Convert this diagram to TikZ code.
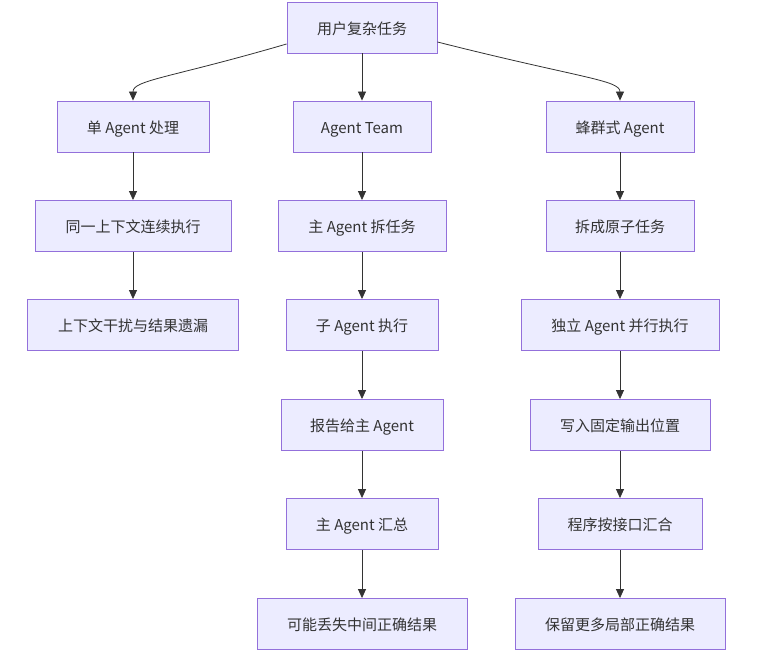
\documentclass[tikz,border=0pt]{standalone}
\usepackage{fontspec}
\setmainfont{Noto Sans CJK SC}
\usepackage{xcolor}
\usetikzlibrary{positioning}
\usetikzlibrary{arrows.meta}

\definecolor{boxfill}{HTML}{ECECFF}
\definecolor{boxline}{HTML}{9370DB}
\definecolor{arrowgray}{HTML}{333333}

\tikzset{
    box/.style={shape=rectangle, draw=boxline, fill=boxfill, line width=0.9pt, minimum height=51pt, inner sep=0pt, text height=13pt, text depth=0pt, font=\fontsize{15}{17}\selectfont, text=arrowgray},
    flow/.style={draw=arrowgray, line width=0.8pt, -{Triangle[length=9pt, width=8pt]}}
}

\begin{document}
\begin{tikzpicture}[x=1pt, y=-1pt]
    \useasboundingbox (0,0) rectangle (760,662);

    \node[box, minimum width=150pt] (T) at (362,27.5) {用户复杂任务};

    % left column
    \node[box, minimum width=152pt] (A1) at (133,126.5) {单 Agent 处理};
    \node[box, minimum width=196pt] (A2) at (133,226) {同一上下文连续执行};
    \node[box, minimum width=211pt] (A3) at (133,325) {上下文干扰与结果遗漏};

    % middle column
    \node[box, minimum width=138pt] (B1) at (362,126.5) {Agent Team};
    \node[box, minimum width=168pt] (B2) at (362,226) {主 Agent 拆任务};
    \node[box, minimum width=152pt] (B3) at (362,325) {子 Agent 执行};
    \node[box, minimum width=162pt] (B4) at (362,425) {报告给主 Agent};
    \node[box, minimum width=152pt] (B5) at (362,524) {主 Agent 汇总};
    \node[box, minimum width=210pt] (B6) at (362,624) {可能丢失中间正确结果};

    % right column
    \node[box, minimum width=148pt] (C1) at (620,126.5) {蜂群式 Agent};
    \node[box, minimum width=148pt] (C2) at (620,226) {拆成原子任务};
    \node[box, minimum width=198pt] (C3) at (620,325) {独立 Agent 并行执行};
    \node[box, minimum width=180pt] (C4) at (620,425) {写入固定输出位置};
    \node[box, minimum width=164pt] (C5) at (620,524) {程序按接口汇合};
    \node[box, minimum width=210pt] (C6) at (620,624) {保留更多局部正确结果};

    \draw[flow] (T.west |- 0,44) .. controls (170,78) and (133,80) .. (A1.north);
    \draw[flow] (T) -- (B1);
    \draw[flow] (T.east |- 0,42) .. controls (580,78) and (620,80) .. (C1.north);

    \draw[flow] (A1) -- (A2);
    \draw[flow] (A2) -- (A3);

    \draw[flow] (B1) -- (B2);
    \draw[flow] (B2) -- (B3);
    \draw[flow] (B3) -- (B4);
    \draw[flow] (B4) -- (B5);
    \draw[flow] (B5) -- (B6);

    \draw[flow] (C1) -- (C2);
    \draw[flow] (C2) -- (C3);
    \draw[flow] (C3) -- (C4);
    \draw[flow] (C4) -- (C5);
    \draw[flow] (C5) -- (C6);
\end{tikzpicture}
\end{document}
